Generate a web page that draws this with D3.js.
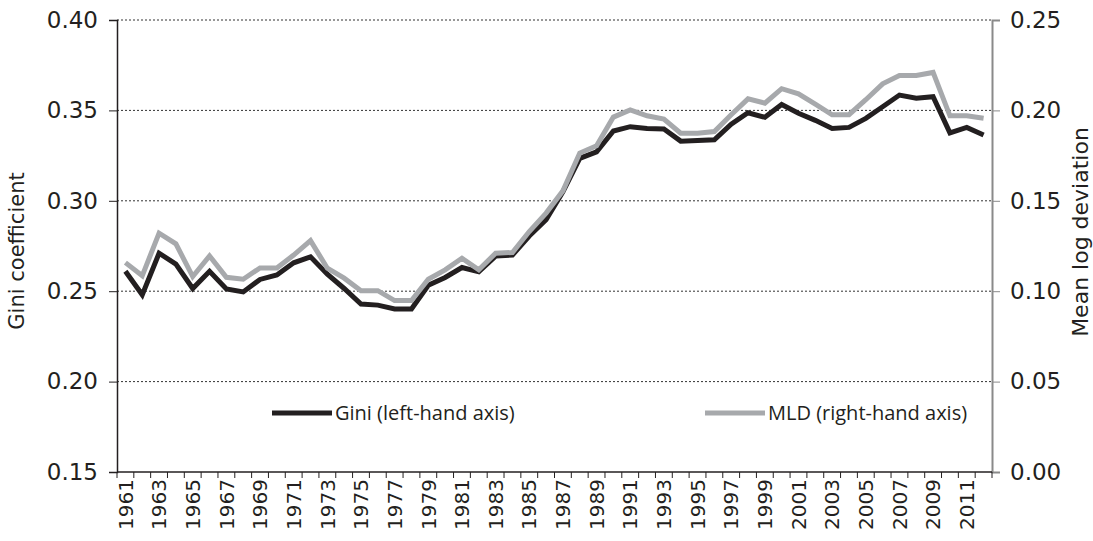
<!DOCTYPE html>
<meta charset="utf-8">
<script src="https://d3js.org/d3.v7.min.js"></script>
<style>
  body { margin: 0; background: #fff; }
  text { font-family: "DejaVu Sans", sans-serif; fill: #231f20; }
  .legend text { font-family: "Open Sans", sans-serif; }
</style>
<div id="chart"></div>
<script>
// years on the x axis
var years = d3.range(1961, 2013);
var yearLabels = ["1961","1963","1965","1967","1969","1971","1973","1975","1977","1979","1981","1983","1985",
  "1987","1989","1991","1993","1995","1997","1999","2001","2003","2005","2007","2009","2011"];

// Gini coefficient (left-hand axis)
var gini = [0.261, 0.248, 0.271, 0.265, 0.2515, 0.261, 0.2512, 0.2496, 0.2565, 0.259,
  0.2657, 0.269, 0.2594, 0.2515, 0.2429, 0.2423, 0.2402, 0.2402, 0.2533, 0.2576,
  0.2631, 0.2607, 0.2694, 0.270, 0.2805, 0.2895, 0.305, 0.3235, 0.3271, 0.3386,
  0.341, 0.340, 0.3397, 0.333, 0.3333, 0.3337, 0.3424, 0.3487, 0.3462, 0.3533,
  0.3484, 0.3445, 0.340, 0.3406, 0.3456, 0.352, 0.3585, 0.3567, 0.3576, 0.3376,
  0.3406, 0.3364];

// Mean log deviation (right-hand axis)
var mld = [0.1158, 0.1085, 0.1321, 0.1262, 0.1081, 0.1195, 0.1077, 0.1066, 0.1129, 0.1129,
  0.120, 0.128, 0.1127, 0.1072, 0.1003, 0.1003, 0.0948, 0.0948, 0.1066, 0.1118,
  0.1182, 0.1118, 0.121, 0.1214, 0.133, 0.1432, 0.1555, 0.1764, 0.1804, 0.1963,
  0.2003, 0.197, 0.1952, 0.1874, 0.1874, 0.1883, 0.1976, 0.2064, 0.204, 0.212,
  0.2092, 0.2035, 0.1976, 0.1976, 0.2059, 0.2147, 0.2193, 0.2193, 0.221, 0.197,
  0.197, 0.1957];

var leftTicks = [0.15, 0.20, 0.25, 0.30, 0.35, 0.40];
var rightTicks = [0.00, 0.05, 0.10, 0.15, 0.20, 0.25];

var width = 1093, height = 541;
var plotLeft = 117, plotRight = 992, plotTop = 20, plotBottom = 472;

var svg = d3.select("#chart").append("svg")
  .attr("width", width)
  .attr("height", height);

var x = d3.scaleBand().domain(years).range([plotLeft, plotRight]).padding(0);
var yL = d3.scaleLinear().domain([0.15, 0.40]).range([plotBottom, plotTop]);
var yR = d3.scaleLinear().domain([0.00, 0.25]).range([plotBottom, plotTop]);

// dotted gridlines
svg.append("g").selectAll("line")
  .data(leftTicks.slice(1))
  .enter().append("line")
    .attr("x1", plotLeft).attr("x2", plotRight)
    .attr("y1", function(d) { return yL(d); })
    .attr("y2", function(d) { return yL(d); })
    .attr("stroke", "#333")
    .attr("stroke-width", 1)
    .attr("stroke-dasharray", "2,2");

// left axis
var axL = svg.append("g")
  .attr("transform", "translate(" + plotLeft + ",0)")
  .call(d3.axisLeft(yL).tickValues(leftTicks).tickFormat(d3.format(".2f")).tickSize(8).tickPadding(11));
axL.select(".domain").attr("stroke", "#231f20").attr("stroke-width", 1.5);
axL.selectAll(".tick line").attr("stroke", "#231f20");
axL.selectAll("text").style("font-family", "DejaVu Sans").style("font-size", "23px").attr("fill", "#231f20");

// right axis
var axR = svg.append("g")
  .attr("transform", "translate(" + plotRight + ",0)")
  .call(d3.axisRight(yR).tickValues(rightTicks).tickFormat(d3.format(".2f")).tickSize(8).tickPadding(10));
axR.select(".domain").attr("stroke", "#8a8a8a").attr("stroke-width", 2);
axR.selectAll(".tick line").attr("stroke", "#8a8a8a");
axR.selectAll("text").style("font-family", "DejaVu Sans").style("font-size", "23px").attr("fill", "#231f20");

// bottom axis: ticks between years
svg.append("line")
  .attr("x1", plotLeft).attr("x2", plotRight)
  .attr("y1", plotBottom).attr("y2", plotBottom)
  .attr("stroke", "#231f20").attr("stroke-width", 1.5);
var bounds = years.map(function(d) { return x(d); }).concat([plotRight]);
svg.append("g").selectAll("line")
  .data(bounds)
  .enter().append("line")
    .attr("x1", function(d) { return d; }).attr("x2", function(d) { return d; })
    .attr("y1", plotBottom).attr("y2", plotBottom + 6)
    .attr("stroke", "#231f20").attr("stroke-width", 1);

svg.append("g").selectAll("text")
  .data(yearLabels)
  .enter().append("text")
    .attr("transform", function(d) {
      return "translate(" + (x(+d) + x.bandwidth() / 2) + "," + (plotBottom + 7) + ") rotate(-90)";
    })
    .attr("text-anchor", "end")
    .attr("dy", "0.36em")
    .style("font-size", "20px")
    .text(function(d) { return d; });

// axis titles
svg.append("text")
  .attr("transform", "translate(17,251) rotate(-90)")
  .attr("text-anchor", "middle")
  .attr("dy", "0.35em")
  .style("font-size", "21px")
  .text("Gini coefficient");

svg.append("text")
  .attr("transform", "translate(1080,232) rotate(-90)")
  .attr("text-anchor", "middle")
  .attr("dy", "0.35em")
  .style("font-size", "22px")
  .text("Mean log deviation");

// lines
var cx = function(i) { return x(years[i]) + x.bandwidth() / 2; };

var giniLine = d3.line()
  .x(function(d, i) { return cx(i); })
  .y(function(d) { return yL(d); });
var mldLine = d3.line()
  .x(function(d, i) { return cx(i); })
  .y(function(d) { return yR(d); });

svg.append("path")
  .attr("d", giniLine(gini))
  .attr("fill", "none")
  .attr("stroke", "#231f20")
  .attr("stroke-width", 5)
  .attr("stroke-linejoin", "miter");

svg.append("path")
  .attr("d", mldLine(mld))
  .attr("fill", "none")
  .attr("stroke", "#a7a9ac")
  .attr("stroke-width", 5)
  .attr("stroke-linejoin", "miter");

// legend
var legend = [
  { label: "Gini (left-hand axis)", color: "#231f20", x: 272 },
  { label: "MLD (right-hand axis)", color: "#a7a9ac", x: 705 }
];
var lg = svg.append("g").attr("class", "legend").selectAll("g")
  .data(legend)
  .enter().append("g")
    .attr("transform", function(d) { return "translate(" + d.x + ",413)"; });
lg.append("line")
  .attr("x1", 0).attr("x2", 60)
  .attr("stroke", function(d) { return d.color; })
  .attr("stroke-width", 5);
lg.append("text")
  .attr("x", 63)
  .attr("dy", "0.35em")
  .style("font-size", "20px")
  .text(function(d) { return d.label; });
</script>
